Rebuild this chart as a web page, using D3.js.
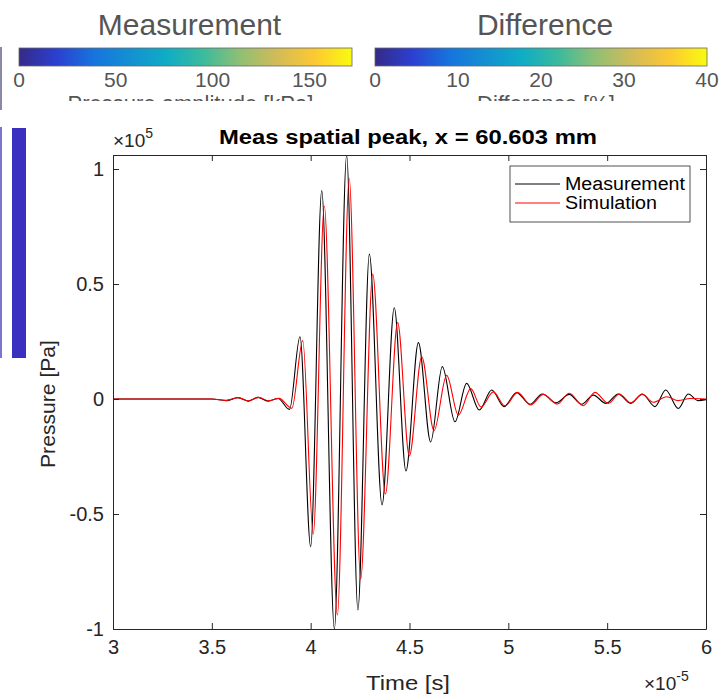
<!DOCTYPE html>
<html>
<head>
<meta charset="utf-8">
<script src="https://cdn.jsdelivr.net/npm/d3@7.9.0/dist/d3.min.js"></script>
<style>
  body { margin: 0; background: #fff; }
  svg { display: block; font-family: "Liberation Sans", Arial, sans-serif; }
</style>
</head>
<body>
<svg id="chart" width="724" height="694"></svg>
<script>
// time in units of 1e-5 s, pressure in units of 1e5 Pa
const measTime = [3.0, 3.5, 3.573, 3.632, 3.683, 3.734, 3.784, 3.835, 3.893, 3.946, 4.0, 4.056, 4.12, 4.182,
  4.239, 4.297, 4.361, 4.423, 4.482, 4.545, 4.607, 4.666, 4.73, 4.789, 4.853, 4.916, 4.978, 5.042, 5.11,
  5.172, 5.241, 5.308, 5.371, 5.43, 5.494, 5.556, 5.619, 5.678, 5.742, 5.796, 5.86, 5.91, 5.961, 6.0];
const measPressure = [0, 0, -0.007, 0.006, -0.009, 0.007, -0.009, 0.002, -0.045, 0.271, -0.642, 0.906, -1.0, 1.06,
  -0.917, 0.63, -0.461, 0.397, -0.313, 0.245, -0.187, 0.141, -0.099, 0.068, -0.048, 0.039, -0.033, 0.028, -0.023,
  0.022, -0.016, 0.02, -0.023, 0.017, -0.019, 0.022, -0.019, 0.022, -0.033, 0.039, -0.041, 0.022, -0.007, -0.003];

const simTime = [3.0, 3.5, 3.575, 3.635, 3.686, 3.737, 3.788, 3.84, 3.905, 3.96, 4.013, 4.069, 4.135, 4.195,
  4.253, 4.314, 4.378, 4.44, 4.499, 4.562, 4.624, 4.688, 4.747, 4.81, 4.862, 4.924, 4.983, 5.047, 5.113,
  5.177, 5.248, 5.308, 5.379, 5.438, 5.506, 5.562, 5.619, 5.678, 5.733, 5.801, 5.86, 5.92, 6.0];
const simPressure = [0, 0, -0.006, 0.006, -0.008, 0.007, -0.008, 0.003, -0.04, 0.254, -0.587, 0.839, -0.939, 0.959,
  -0.783, 0.543, -0.413, 0.332, -0.248, 0.184, -0.138, 0.103, -0.07, 0.045, -0.035, 0.031, -0.03, 0.029, -0.026,
  0.02, -0.022, 0.025, -0.029, 0.029, -0.019, 0.022, -0.016, 0.02, -0.014, 0.01, -0.007, 0.002, 0];

const xTicks = [3, 3.5, 4, 4.5, 5, 5.5, 6];
const yTicks = [-1, -0.5, 0, 0.5, 1];
const measBarTicks = [0, 50, 100, 150];
const diffBarTicks = [0, 10, 20, 30, 40];
const parula = ["#352a87", "#2c3fd0", "#1673dd", "#1490d2", "#0fadc4", "#3dbb9b", "#92bf73", "#d4bb57", "#fcc932", "#f9fb0e"];

const svg = d3.select('#chart');
const axisColor = '#262626';

// ---- colorbars on top (partly hidden by the figure below) ----
const defs = svg.append('defs');
const grad = defs.append('linearGradient').attr('id', 'parula');
parula.forEach((c, i) => {
  grad.append('stop').attr('offset', i / (parula.length - 1)).attr('stop-color', c);
});
defs.append('clipPath').attr('id', 'topclip')
  .append('rect').attr('x', 0).attr('y', 0).attr('width', 724).attr('height', 101);

function colorbar(title, label, ticks, domain, x0, x1) {
  const g = svg.append('g').attr('clip-path', 'url(#topclip)');
  const s = d3.scaleLinear().domain(domain).range([x0, x1]);
  g.append('text').attr('x', (x0 + x1) / 2 + 4).attr('y', 35)
    .attr('text-anchor', 'middle').attr('font-size', 30).attr('fill', '#555')
    .text(title);
  g.append('rect').attr('x', x0).attr('y', 48).attr('width', x1 - x0).attr('height', 18)
    .attr('fill', 'url(#parula)').attr('stroke', '#666').attr('stroke-width', 0.8);
  g.selectAll('.cbt').data(ticks).join('text')
    .attr('x', d => s(d)).attr('y', 87)
    .attr('text-anchor', 'middle').attr('font-size', 21).attr('fill', '#555')
    .text(d => d);
  g.append('text').attr('x', (x0 + x1) / 2 + 5).attr('y', 111)
    .attr('text-anchor', 'middle').attr('font-size', 22).attr('fill', '#555')
    .text(label);
}
colorbar('Measurement', 'Pressure amplitude [kPa]', measBarTicks, [0, 172], 19, 352);
colorbar('Difference', 'Difference [%]', diffBarTicks, [0, 40], 375, 707);

// left strip of another colorbar
svg.append('rect').attr('x', 0).attr('y', 47).attr('width', 2).attr('height', 63).attr('fill', '#8a8aa8');
svg.append('rect').attr('x', 0).attr('y', 127).attr('width', 2).attr('height', 231).attr('fill', '#7d74d2');
svg.append('rect').attr('x', 12).attr('y', 128).attr('width', 14).attr('height', 230).attr('fill', '#3a2fbf');

// ---- main axes ----
const L = 113, R = 706, T = 155, B = 629;
const x = d3.scaleLinear().domain([3, 6]).range([L, R]);
const y = d3.scaleLinear().domain([-1, 1.061]).range([B, T]);

defs.append('clipPath').attr('id', 'plotclip')
  .append('rect').attr('x', L).attr('y', T).attr('width', R - L).attr('height', B - T);

const line = d3.line().x(d => x(d[0])).y(d => y(d[1])).curve(d3.curveMonotoneX);
const meas = measTime.map((t, i) => [t, measPressure[i]]);
const sim = simTime.map((t, i) => [t, simPressure[i]]);

const plot = svg.append('g').attr('clip-path', 'url(#plotclip)');
plot.append('path').attr('d', line(meas)).attr('fill', 'none').attr('stroke', '#000').attr('stroke-width', 1.1);
plot.append('path').attr('d', line(sim)).attr('fill', 'none').attr('stroke', '#ff0000').attr('stroke-width', 1.1);

function styleAxis(g) {
  g.select('.domain').attr('stroke', axisColor);
  g.selectAll('.tick line').attr('stroke', axisColor);
  g.selectAll('.tick text').attr('fill', axisColor).attr('font-size', 20);
}
svg.append('g').attr('transform', `translate(0,${B})`)
  .call(d3.axisBottom(x).tickValues(xTicks).tickFormat(d3.format('')).tickSizeInner(-6).tickSizeOuter(0).tickPadding(11))
  .call(styleAxis);
svg.append('g').attr('transform', `translate(0,${T})`)
  .call(d3.axisTop(x).tickValues(xTicks).tickFormat('').tickSizeInner(-6).tickSizeOuter(0))
  .call(styleAxis);
svg.append('g').attr('transform', `translate(${L},0)`)
  .call(d3.axisLeft(y).tickValues(yTicks).tickFormat(d3.format('')).tickSizeInner(-6).tickSizeOuter(0).tickPadding(9))
  .call(styleAxis);
svg.append('g').attr('transform', `translate(${R},0)`)
  .call(d3.axisRight(y).tickValues(yTicks).tickFormat('').tickSizeInner(-6).tickSizeOuter(0))
  .call(styleAxis);
svg.selectAll('.tick text').text(function () { return this.textContent.replace('\u2212', '-'); });

// exponent labels
const e1 = svg.append('text').attr('x', 113).attr('y', 147).attr('font-size', 19).attr('fill', axisColor);
e1.append('tspan').text('\u00d710');
e1.append('tspan').attr('dy', -9).attr('font-size', 14).text('5');
const e2 = svg.append('text').attr('x', 644).attr('y', 690).attr('font-size', 19).attr('fill', axisColor);
e2.append('tspan').text('\u00d710');
e2.append('tspan').attr('dy', -9).attr('font-size', 14).text('-5');

// titles and labels
svg.append('text').attr('x', 408).attr('y', 144).attr('text-anchor', 'middle')
  .attr('font-size', 20).attr('font-weight', 'bold').attr('fill', '#000')
  .attr('textLength', 378).attr('lengthAdjust', 'spacingAndGlyphs')
  .text('Meas spatial peak, x = 60.603 mm');
svg.append('text').attr('x', 408).attr('y', 690).attr('text-anchor', 'middle')
  .attr('font-size', 21).attr('fill', axisColor)
  .attr('textLength', 84).attr('lengthAdjust', 'spacingAndGlyphs').text('Time [s]');
svg.append('text').attr('transform', 'translate(55,404) rotate(-90)').attr('text-anchor', 'middle')
  .attr('font-size', 21).attr('fill', axisColor)
  .attr('textLength', 128).attr('lengthAdjust', 'spacingAndGlyphs').text('Pressure [Pa]');

// legend
const legend = svg.append('g');
legend.append('rect').attr('x', 510).attr('y', 166).attr('width', 180).attr('height', 56)
  .attr('fill', '#fff').attr('stroke', axisColor).attr('stroke-width', 0.8);
const legendItems = [['Measurement', '#000', 120], ['Simulation', '#ff0000', 92]];
legendItems.forEach(([name, color, len], i) => {
  const ly = 184 + i * 19;
  legend.append('line').attr('x1', 515).attr('x2', 560).attr('y1', ly).attr('y2', ly)
    .attr('stroke', color).attr('stroke-width', 1);
  legend.append('text').attr('x', 565).attr('y', ly + 6).attr('font-size', 18).attr('fill', '#000')
    .attr('textLength', len).attr('lengthAdjust', 'spacingAndGlyphs').text(name);
});
</script>
</body>
</html>
